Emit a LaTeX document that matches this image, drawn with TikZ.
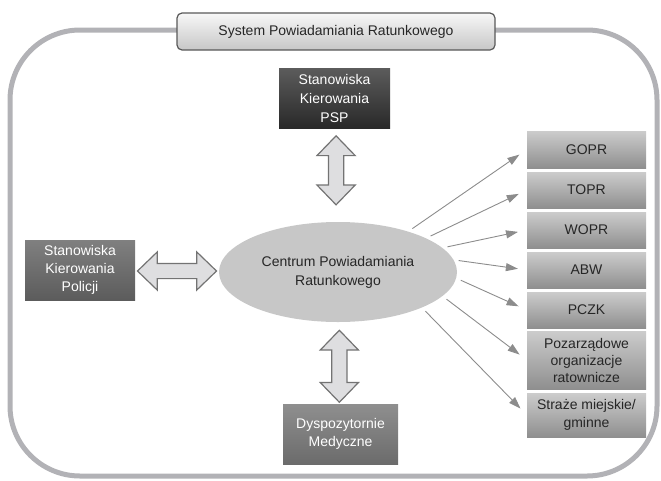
\documentclass[tikz,border=0pt]{standalone}
\usepackage{fontspec}
\setmainfont{Liberation Sans}
\usetikzlibrary{positioning,arrows.meta,calc,shapes.geometric,shapes.arrows}
\definecolor{framegray}{RGB}{178,178,182}
\definecolor{linkgray}{RGB}{140,140,140}
\definecolor{arrowfill}{RGB}{222,222,224}
\tikzset{
  box/.style={align=center,inner sep=2pt,font=\fontsize{14}{18}\selectfont},
  unit/.style={box,minimum width=119pt,minimum height=36pt,top color=black!20,bottom color=black!44,text=black!85},
  post/.style={box,text=white,minimum height=60pt},
  headbox/.style={box,rounded corners=5pt,draw=black!65,line width=1.2pt,top color=black!3,bottom color=black!22,
    minimum width=318pt,minimum height=37pt,text=black!85},
  hub/.style={ellipse,box,fill=black!22,minimum width=238pt,minimum height=100pt,text=black!85,font=\fontsize{14}{19}\selectfont},
  fatarr/.style={double arrow,draw=black!55,fill=arrowfill,line width=1.2pt,inner sep=7pt,
    double arrow head extend=11.5pt,double arrow tip angle=88},
  link/.style={-{Triangle[length=12pt,width=8pt]},draw=linkgray,line width=0.9pt,shorten <=5pt,shorten >=9pt},
  frame/.style={draw=framegray,line width=5pt,rounded corners=70pt},
}
\begin{document}
\begin{tikzpicture}[x=1pt,y=-1pt]
  \useasboundingbox (0,0) rectangle (661,480);
  \draw[frame] (10,30) rectangle (657,476);
  \node[headbox] (spr) at (336,31.5) {System Powiadamiania Ratunkowego};
  \node[hub] (cpr) at (338,272) {Centrum Powiadamiania\\Ratunkowego};
  % stanowiska i dyspozytornie
  \node[post,minimum width=111pt,top color=black!64,bottom color=black!84,font=\fontsize{14}{19}\selectfont] (psp) at (334.5,98) {Stanowiska\\Kierowania\\PSP};
  \node[post,minimum width=110pt,top color=black!50,bottom color=black!64] (pol) at (80,270) {Stanowiska\\Kierowania\\Policji};
  \node[post,minimum width=115pt,top color=black!44,bottom color=black!58] (med) at (340.5,434) {Dyspozytornie\\Medyczne};
  % sluzby
  \node[unit,minimum height=37pt] (gopr) at (586.5,149.5) {GOPR};
  \node[unit] (topr) at (586.5,190) {TOPR};
  \node[unit] (wopr) at (586.5,230) {WOPR};
  \node[unit] (abw) at (586.5,270) {ABW};
  \node[unit] (pczk) at (586.5,310) {PCZK};
  \node[unit,minimum height=58pt,font=\fontsize{14}{17}\selectfont] (ngo) at (586.5,360) {Pozarządowe\\organizacje\\ratownicze};
  \node[unit,minimum height=44pt] (sm) at (586.5,415) {Straże miejskie/\\gminne};
  % dwukierunkowe
  \node[fatarr,rotate=90,minimum height=69pt] (a1) at ($(psp.south)!0.45!(cpr.north)$) {};
  \node[fatarr,minimum height=79pt] (a2) at ($(pol.east)!0.5!(cpr.west)$) {};
  \node[fatarr,rotate=90,minimum height=72pt] (a3) at ($(cpr.south)!0.54!(med.north)$) {};
  \draw[link] (cpr.30) -- (gopr.west);
  \draw[link] (cpr.21) -- (topr.west);
  \draw[link] (cpr.13) -- (wopr.west);
  \draw[link] (cpr.6) -- (abw.west);
  \draw[link] (cpr.-3) -- (pczk.west);
  \draw[link] (cpr.-13) -- (ngo.west);
  \draw[link] (cpr.-23) -- (sm.west);
\end{tikzpicture}
\end{document}
